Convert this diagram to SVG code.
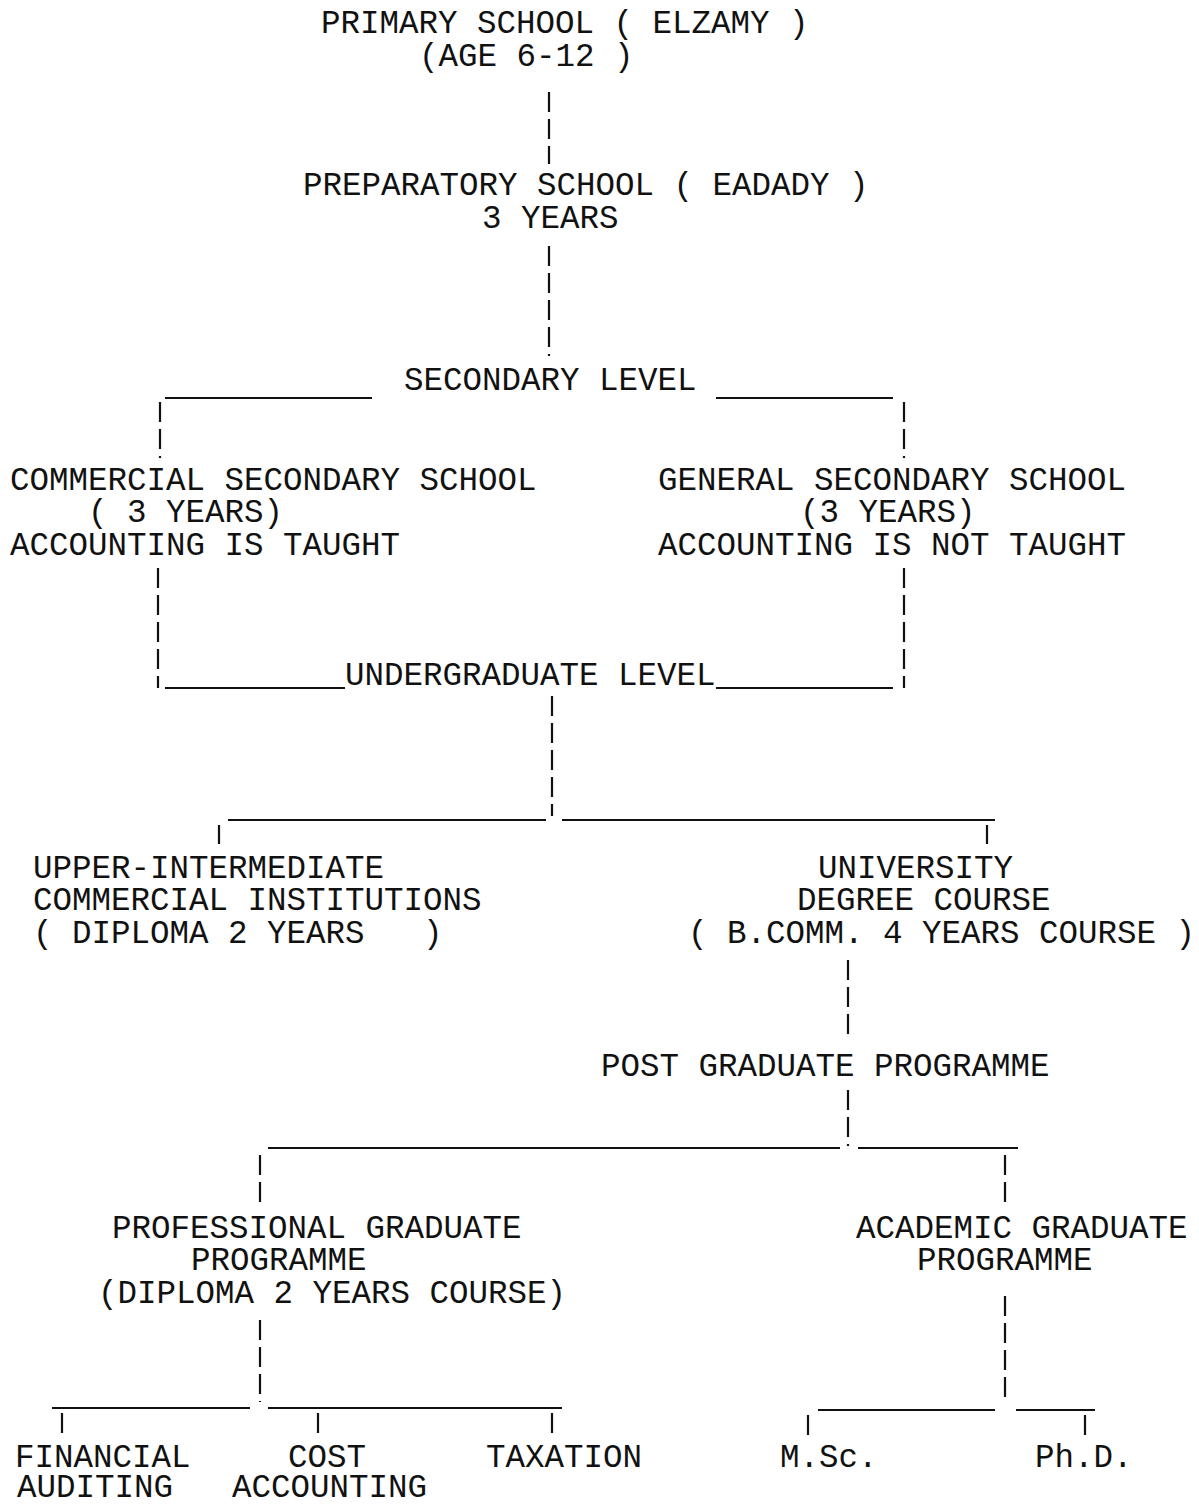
<svg xmlns="http://www.w3.org/2000/svg" width="1199" height="1504" viewBox="0 0 1199 1504">
<style>
text{font-family:"Liberation Mono","Courier New",monospace;font-size:32.5px;fill:#111;}
.v{stroke:#111;stroke-width:2.2;stroke-dasharray:20 7;fill:none;}
.h{stroke:#111;stroke-width:2.2;fill:none;}
</style>
<rect width="1199" height="1504" fill="#fff"/>
<g id="connectors">
<line class="v" x1="549" y1="92" x2="549" y2="164"/>
<line class="v" x1="549" y1="246" x2="549" y2="356"/>
<line class="h" x1="165" y1="398" x2="372" y2="398"/>
<line class="h" x1="716" y1="398" x2="893" y2="398"/>
<line class="v" x1="160" y1="402" x2="160" y2="458"/>
<line class="v" x1="904" y1="402" x2="904" y2="458"/>
<line class="v" x1="158" y1="568" x2="158" y2="688"/>
<line class="v" x1="904" y1="568" x2="904" y2="688"/>
<line class="h" x1="165" y1="688" x2="345" y2="688"/>
<line class="h" x1="716" y1="688" x2="893" y2="688"/>
<line class="v" x1="552" y1="696" x2="552" y2="816"/>
<line class="h" x1="228" y1="820" x2="546" y2="820"/>
<line class="h" x1="562" y1="820" x2="995" y2="820"/>
<line class="v" x1="219" y1="825" x2="219" y2="844"/>
<line class="v" x1="987" y1="825" x2="987" y2="844"/>
<line class="v" x1="848" y1="960" x2="848" y2="1040"/>
<line class="v" x1="848" y1="1090" x2="848" y2="1146"/>
<line class="h" x1="268" y1="1148" x2="840" y2="1148"/>
<line class="h" x1="858" y1="1148" x2="1018" y2="1148"/>
<line class="v" x1="260" y1="1155" x2="260" y2="1202"/>
<line class="v" x1="1005" y1="1155" x2="1005" y2="1202"/>
<line class="v" x1="260" y1="1320" x2="260" y2="1402"/>
<line class="h" x1="52" y1="1408" x2="250" y2="1408"/>
<line class="h" x1="268" y1="1408" x2="562" y2="1408"/>
<line class="v" x1="62" y1="1413" x2="62" y2="1436"/>
<line class="v" x1="318" y1="1413" x2="318" y2="1436"/>
<line class="v" x1="552" y1="1413" x2="552" y2="1436"/>
<line class="v" x1="1005" y1="1296" x2="1005" y2="1404"/>
<line class="h" x1="818" y1="1410" x2="995" y2="1410"/>
<line class="h" x1="1016" y1="1410" x2="1095" y2="1410"/>
<line class="v" x1="808" y1="1415" x2="808" y2="1440"/>
<line class="v" x1="1085" y1="1415" x2="1085" y2="1440"/>
</g>
<g id="primary"><text x="321" y="33">PRIMARY SCHOOL ( ELZAMY )</text><text x="419" y="66">(AGE 6-12 )</text></g>
<g id="preparatory"><text x="303" y="195">PREPARATORY SCHOOL ( EADADY )</text><text x="482" y="228">3 YEARS</text></g>
<g id="secondary"><text x="404" y="390">SECONDARY LEVEL</text></g>
<g id="commercial"><text x="10" y="490">COMMERCIAL SECONDARY SCHOOL</text><text x="88" y="522" xml:space="preserve">( 3 YEARS)</text><text x="10" y="555">ACCOUNTING IS TAUGHT</text></g>
<g id="general"><text x="658" y="490">GENERAL SECONDARY SCHOOL</text><text x="800" y="522">(3 YEARS)</text><text x="658" y="555">ACCOUNTING IS NOT TAUGHT</text></g>
<g id="undergraduate"><text x="345" y="685">UNDERGRADUATE LEVEL</text></g>
<g id="upper"><text x="33" y="878">UPPER-INTERMEDIATE</text><text x="33" y="910">COMMERCIAL INSTITUTIONS</text><text x="33" y="943" xml:space="preserve">( DIPLOMA 2 YEARS   )</text></g>
<g id="university"><text x="818" y="878">UNIVERSITY</text><text x="797" y="910">DEGREE COURSE</text><text x="688" y="943">( B.COMM. 4 YEARS COURSE )</text></g>
<g id="postgrad"><text x="601" y="1076">POST GRADUATE PROGRAMME</text></g>
<g id="professional"><text x="112" y="1238">PROFESSIONAL GRADUATE</text><text x="191" y="1270">PROGRAMME</text><text x="98" y="1303">(DIPLOMA 2 YEARS COURSE)</text></g>
<g id="academic"><text x="856" y="1238">ACADEMIC GRADUATE</text><text x="917" y="1270">PROGRAMME</text></g>
<g id="financial"><text x="15" y="1467">FINANCIAL</text><text x="17" y="1497">AUDITING</text></g>
<g id="cost"><text x="288" y="1467">COST</text><text x="232" y="1497">ACCOUNTING</text></g>
<g id="taxation"><text x="486" y="1467">TAXATION</text></g>
<g id="msc"><text x="780" y="1467">M.Sc.</text></g>
<g id="phd"><text x="1035" y="1467">Ph.D.</text></g>
</svg>
